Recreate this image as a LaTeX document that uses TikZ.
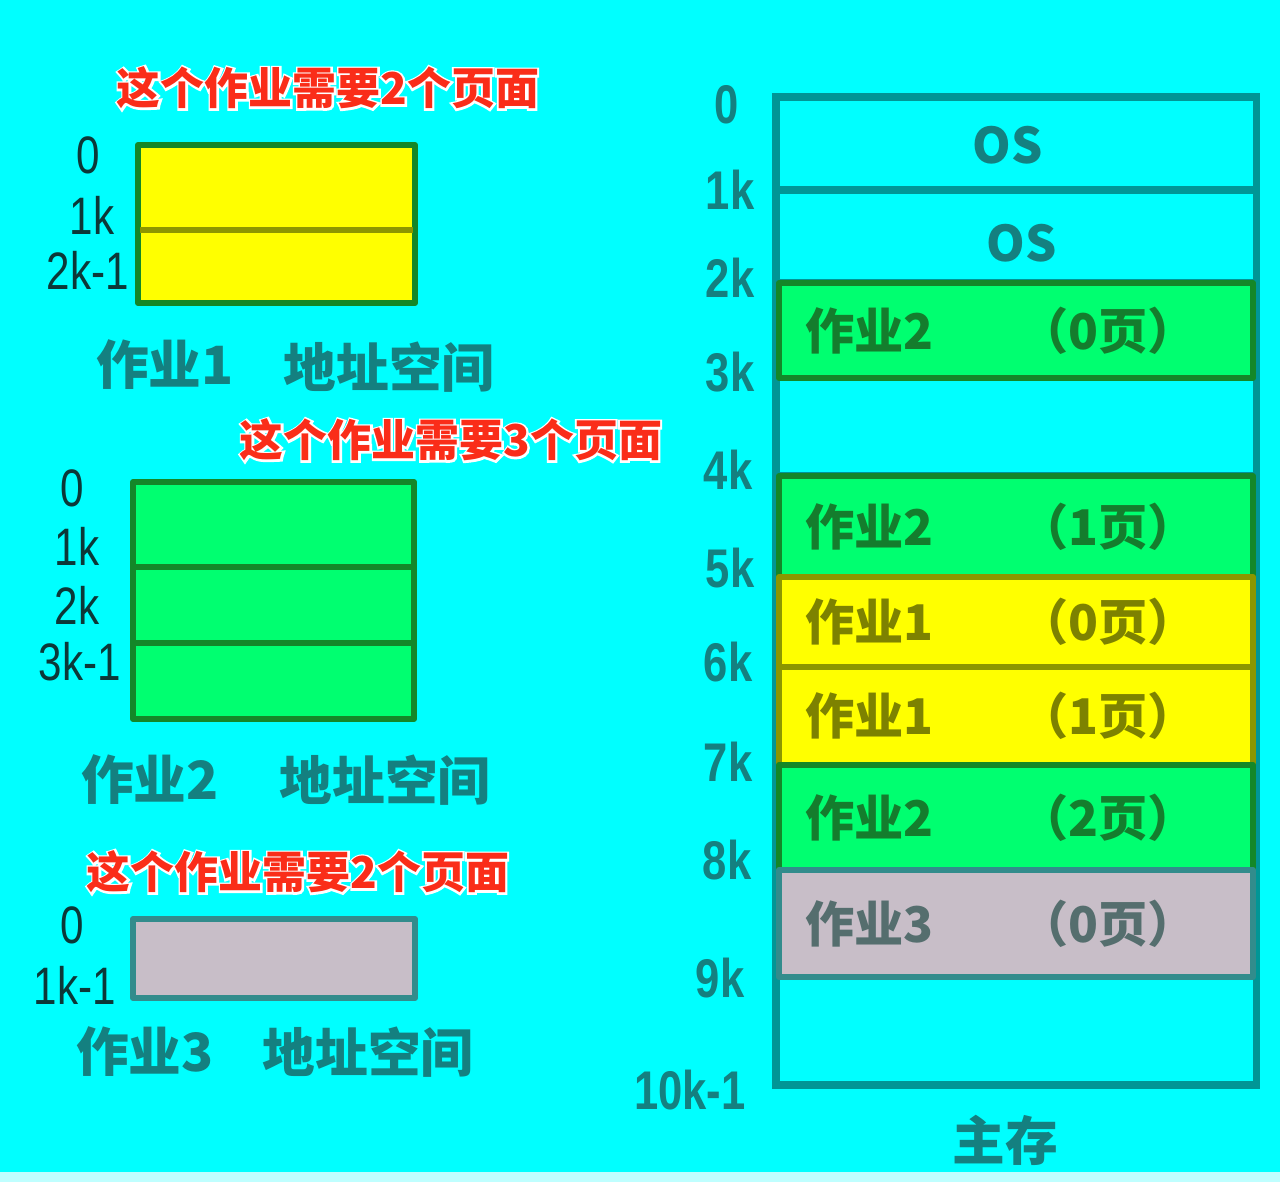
\documentclass[tikz,border=0pt]{standalone}
\usepackage{fontspec}
\newfontfamily\cjk{Noto Sans CJK SC}
\newfontfamily\cjkhalo[BoldFeatures={FakeBold=9}]{Noto Sans CJK SC}
\newfontfamily\labfont[FakeStretch=0.8]{Liberation Sans}
\definecolor{bg_cyan}{RGB}{0,255,255}
\definecolor{job_yellow}{RGB}{255,255,0}
\definecolor{job_green}{RGB}{0,255,112}
\definecolor{job_grey}{RGB}{200,190,200}
\definecolor{line_green}{RGB}{20,135,40}
\definecolor{line_olive}{RGB}{140,150,0}
\definecolor{line_teal}{RGB}{0,150,150}
\definecolor{line_grey}{RGB}{50,140,140}
\definecolor{title_red}{RGB}{250,45,25}
\definecolor{lab_dark}{RGB}{12,56,56}
\definecolor{lab_teal}{RGB}{20,128,128}
\definecolor{txt_green}{RGB}{20,125,45}
\definecolor{txt_olive}{RGB}{125,130,0}
\definecolor{txt_grey}{RGB}{85,110,110}

\begin{document}
\begin{tikzpicture}[x=0.02cm,y=-0.02cm]
    % Define text styles
    \tikzset{
        title/.style={font=\cjk\bfseries\fontsize{25}{25}\selectfont,text=title_red,inner sep=0},
        halo/.style={font=\cjkhalo\bfseries\fontsize{25}{25}\selectfont,text=white,inner sep=0},
        addr/.style={font=\labfont\fontsize{30}{30}\selectfont,text=lab_dark,inner sep=0},
        memaddr/.style={font=\labfont\bfseries\fontsize{31}{31}\selectfont,text=lab_teal,inner sep=0},
        spacelab/.style={font=\cjk\bfseries\fontsize{30}{30}\selectfont,text=lab_teal,inner sep=0},
        rowtext/.style={font=\cjk\bfseries\fontsize{28}{28}\selectfont,inner sep=0},
        pagebox/.style={line width=3.5pt,line join=round}
    }

    \useasboundingbox (0,0) rectangle (1280,1182);
    \fill[bg_cyan] (0,0) rectangle (1280,1182); % Background
    \fill[bg_cyan!25!white] (0,1172) rectangle (1280,1182);

    % Job 1 address space
    \node[halo] (need1h) at (328,88) {这个作业需要2个页面};
    \node[title] (need1) at (need1h) {这个作业需要2个页面};
    \filldraw[pagebox,fill=job_yellow,draw=line_green] (138,145) rectangle (415,303);
    \draw[pagebox,line_olive] (140,230) -- (413,230);
    \node[addr] (a1z) at (88,155) {0};
    \node[addr] (a1a) at (92,215) {1k};
    \node[addr] (a1b) at (88,270) {2k-1};
    \node[spacelab] (job1) at (165,365) {作业1};
    \node[spacelab] (as1) at (389,367) {地址空间};

    % Job 2 address space
    \node[halo] (need2h) at (451,440) {这个作业需要3个页面};
    \node[title] (need2) at (need2h) {这个作业需要3个页面};
    \filldraw[pagebox,fill=job_green,draw=line_green] (133,482) rectangle (414,719);
    \foreach \yy in {567,643}
        \draw[pagebox,line_green] (135,\yy) -- (412,\yy);
    \node[addr] (a2z) at (72,488) {0};
    \node[addr] (a2a) at (77,546) {1k};
    \node[addr] (a2b) at (77,605) {2k};
    \node[addr] (a2c) at (80,662) {3k-1};
    \node[spacelab] (job2) at (150,780) {作业2};
    \node[spacelab] (as2) at (385,780) {地址空间};

    % Job 3 address space
    \node[halo] (need3h) at (298,872) {这个作业需要2个页面};
    \node[title] (need3) at (need3h) {这个作业需要2个页面};
    \filldraw[pagebox,fill=job_grey,draw=line_grey] (133,919) rectangle (415,998);
    \node[addr] (a3z) at (72,925) {0};
    \node[addr] (a3a) at (75,985) {1k-1};
    \node[spacelab] (job3) at (145,1052) {作业3};
    \node[spacelab] (as3) at (368,1052) {地址空间};

    % Main memory frame
    \draw[line_teal,line width=4pt] (776,97) rectangle (1256,1085);
    \foreach \yy in {190,283,476,975}
        \draw[line_teal,line width=4pt] (776,\yy) -- (1256,\yy);
    \node[rowtext,text=lab_teal] (os1) at (1008,145) {OS};
    \node[rowtext,text=lab_teal] (os2) at (1022,243) {OS};

    % Occupied frames
    \foreach \ya/\yb/\fc/\dc/\tc/\j/\p [count=\r] in {
        283/378/job_green/line_green/txt_green/2/0,
        476/577/job_green/line_green/txt_green/2/1,
        577/667/job_yellow/line_olive/txt_olive/1/0,
        667/765/job_yellow/line_olive/txt_olive/1/1,
        765/870/job_green/line_green/txt_green/2/2,
        870/977/job_grey/line_grey/txt_grey/3/0}
    {
        \filldraw[pagebox,fill=\fc,draw=\dc] (779,\ya) rectangle (1253,\yb);
        \node[rowtext,text=\tc,anchor=west] (job\r) at (805,{(\ya+\yb)/2}) {作业\j};
        \node[rowtext,text=\tc] (page\r) at (1108,{(\ya+\yb)/2}) {（\p 页）};
    }

    % Memory addresses
    \foreach \lab/\xx/\yy [count=\i] in {0/727/105,1k/730/190,2k/730/278,3k/730/372,4k/728/470,
        5k/730/568,6k/728/662,7k/728/762,8k/727/860,9k/720/978,10k-1/690/1090}
        \node[memaddr] (m\i) at (\xx,\yy) {\lab};
    \node[spacelab] (mem) at (1005,1140) {主存};
\end{tikzpicture}
\end{document}
